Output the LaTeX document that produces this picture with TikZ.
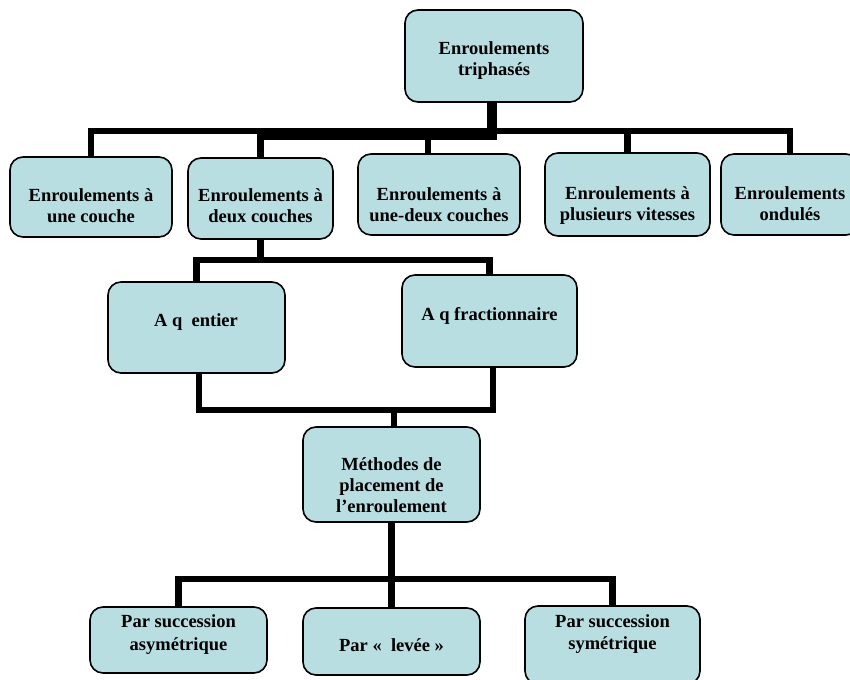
\documentclass[tikz,border=0pt]{standalone}
\usepackage{fontspec}
\setmainfont{Liberation Serif}
\usetikzlibrary{backgrounds}
\definecolor{boxfill}{RGB}{184,222,226}
\tikzset{
  box/.style={draw=black, line width=1.6pt, fill=boxfill, rounded corners=13pt, inner sep=0pt},
  lbl/.style={font=\bfseries\fontsize{18.5}{21}\selectfont, align=center, inner sep=0pt},
  wire/.style={line width=6.5pt, line join=miter, draw=black}
}
\begin{document}
\begin{tikzpicture}[x=1pt, y=-1pt]
\useasboundingbox (0,0) rectangle (850,679);
\clip (0,0) rectangle (850,679);

% root
\node[box, minimum width=178, minimum height=92] (top) at (494,56) {};
\node[lbl] (ttop) at (494,61) {Enroulements\\triphasés};

% first level
\node[box, minimum width=162, minimum height=80] (b1) at (91,197) {};
\node[lbl] (tb1) at (91,206) {Enroulements à\\une couche};
\node[box, minimum width=145, minimum height=81] (b2) at (260.5,198.5) {};
\node[lbl] (tb2) at (260.5,206) {Enroulements à\\deux couches};
\node[box, minimum width=162, minimum height=81] (b3) at (439,194.5) {};
\node[lbl] (tb3) at (439,205) {Enroulements à\\une-deux couches};
\node[box, minimum width=165, minimum height=83] (b4) at (627.5,194.5) {};
\node[lbl] (tb4) at (627.5,206) {Enroulements à\\plusieurs vitesses};
\node[box, minimum width=138, minimum height=81] (b5) at (790,194.5) {};
\node[lbl] (tb5) at (790,204) {Enroulements\\ondulés};

% two-layer windings
\node[box, minimum width=177, minimum height=91] (entier) at (196.5,327.5) {};
\node[lbl] (tentier) at (196,321.7) {A q\ \ entier};
\node[box, minimum width=175, minimum height=92] (frac) at (489.5,321) {};
\node[lbl] (tfrac) at (489.5,315.6) {A q fractionnaire};

% placement methods
\node[box, minimum width=177, minimum height=95] (meth) at (391.5,474.5) {};
\node[lbl] (tmeth) at (391.5,485.5) {Méthodes de\\placement de\\l’enroulement};

\node[box, minimum width=177, minimum height=66] (asym) at (178.5,640) {};
\node[lbl, font=\bfseries\fontsize{18.5}{23}\selectfont] (tasym) at (178.5,635) {Par succession\\asymétrique};
\node[box, minimum width=177, minimum height=67] (levee) at (391.5,641.5) {};
\node[lbl] (tlevee) at (391.5,645.6) {Par «\ \ levée »};
\node[box, minimum width=175, minimum height=78] (sym) at (612.5,645) {};
\node[lbl, font=\bfseries\fontsize{18.5}{22}\selectfont] (tsym) at (612.5,634.5) {Par succession\\symétrique};

% bus lines
\coordinate (busA) at (0,131);
\coordinate (busB) at (0,137);
\coordinate (busC) at (0,260);
\coordinate (busD) at (0,410);
\coordinate (busE) at (0,579);

\begin{scope}[on background layer]
  \draw[wire] ([xshift=-4]top.south) |- (b1.north |- busA) -- (b1.north);
  \draw[wire] ([xshift=-4]top.south) |- ([xshift=-11]b3.north |- busA) -- ([xshift=-11]b3.north);
  \draw[wire] ([xshift=-4]top.south) |- (b4.north |- busA) -- (b4.north);
  \draw[wire] ([xshift=-4]top.south) |- (b5.north |- busA) -- (b5.north);
  \draw[wire] (top.south) |- (b2.north |- busB) -- (b2.north);

  \draw[wire] (b2.south) |- (entier.north |- busC) -- (entier.north);
  \draw[wire] (b2.south) |- (frac.north |- busC) -- (frac.north);

  \draw[wire] ([xshift=2.5]entier.south) |- ([xshift=2.5]meth.north |- busD) -- ([xshift=2.5]meth.north);
  \draw[wire] ([xshift=3.5]frac.south) |- ([xshift=2.5]meth.north |- busD);

  \draw[wire] (meth.south) |- (asym.north |- busE) -- (asym.north);
  \draw[wire] (meth.south) -- (levee.north);
  \draw[wire] (meth.south) |- (sym.north |- busE) -- (sym.north);
\end{scope}
\end{tikzpicture}
\end{document}
